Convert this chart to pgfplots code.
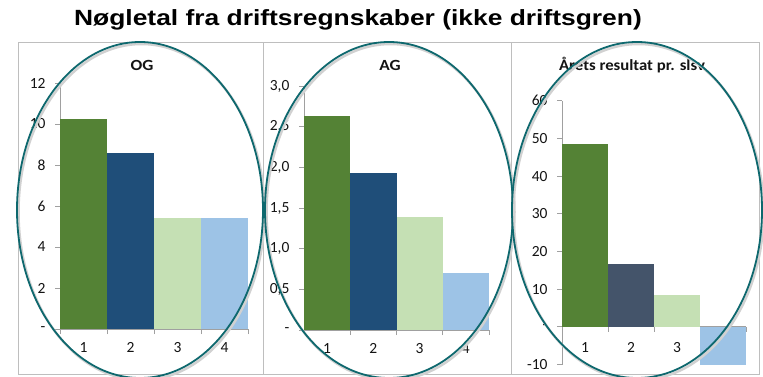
\documentclass[border=0pt]{standalone}
\usepackage{pgfplots}
\pgfplotsset{compat=1.18}
\usepackage{graphicx}
\usepackage{fontspec}
\setmainfont{Carlito}
\newfontfamily\arialfont{Liberation Sans}
\definecolor{cgreen}{RGB}{84,130,53}
\definecolor{cdblue}{RGB}{31,78,121}
\definecolor{cslate}{RGB}{68,84,106}
\definecolor{clgreen}{RGB}{197,224,180}
\definecolor{clblue}{RGB}{157,195,230}
\definecolor{cteal}{RGB}{14,104,110}
\definecolor{caxis}{RGB}{160,160,160}
\definecolor{cframe}{RGB}{190,190,190}
\definecolor{ctext}{RGB}{20,20,20}
\pgfplotsset{
  panel/.style={
    scale only axis, anchor=south west,
    xmin=0.5, xmax=4.5,
    axis y line*=left,
    axis line style={caxis, line width=0.8pt},
    xtick={1,2,3,4},
    minor xtick={0.5,1.5,2.5,3.5,4.5},
    major x tick style={draw=none},
    minor x tick style={caxis, line width=0.8pt},
    y tick style={caxis, line width=0.8pt},
    tick align=outside,
    major tick length=5pt, minor tick length=5pt,
    /pgf/number format/assume math mode=true,
    tick label style={font=\fontsize{15.5}{16}\selectfont, text=ctext},
    yticklabel style={xshift=-6pt},
    xticklabel style={yshift=-5pt},
  },
  bar/.style={ybar, bar width=1, bar shift=0pt, fill=#1, draw=none},
}
\begin{document}
\begin{tikzpicture}[x=1pt,y=1pt]
\useasboundingbox (0,0) rectangle (763,376);
\fill[white] (0,0) rectangle (763,376);
\draw[cframe, line width=0.8pt] (18,2) rectangle (263,334);
\draw[cframe, line width=0.8pt] (263,2) rectangle (511,334);
\draw[cframe, line width=0.8pt] (511,2) rectangle (759,334);

% Panel 1: OG
\begin{axis}[panel, at={(60pt,47pt)}, width=188pt, height=246pt,
  axis x line*=bottom, ymin=0, ymax=12,
  ytick={0,2,4,6,8,10,12}, yticklabels={-\hspace{4pt},2,4,6,8,10,12}]
\addplot[bar=cgreen] coordinates {(1,10.24)};
\addplot[bar=cdblue] coordinates {(2,8.58)};
\addplot[bar=clgreen] coordinates {(3,5.41)};
\addplot[bar=clblue] coordinates {(4,5.41)};
\end{axis}

% Panel 2: AG
\begin{axis}[panel, at={(304pt,46pt)}, width=185pt, height=244pt,
  axis x line*=bottom, ymin=0, ymax=3,
  ytick={0,0.5,1,1.5,2,2.5,3}, yticklabels={-\hspace{4pt},{0,5},{1,0},{1,5},{2,0},{2,5},{3,0}}]
\addplot[bar=cgreen] coordinates {(1,2.63)};
\addplot[bar=cdblue] coordinates {(2,1.93)};
\addplot[bar=clgreen] coordinates {(3,1.39)};
\addplot[bar=clblue] coordinates {(4,0.70)};
\end{axis}

% Panel 3: Årets resultat pr. slsv
\begin{axis}[panel, at={(562pt,11.5pt)}, width=184pt, height=263.8pt,
  axis x line*=middle, ymin=-10, ymax=60,
  xticklabel style={yshift=-2pt},
  ytick={-10,0,10,20,30,40,50,60}, yticklabels={-10,-\hspace{4pt},10,20,30,40,50,60}]
\addplot[bar=cgreen] coordinates {(1,48.5)};
\addplot[bar=cslate] coordinates {(2,16.8)};
\addplot[bar=clgreen] coordinates {(3,8.4)};
\addplot[bar=clblue] coordinates {(4,-10)};
\end{axis}

% panel titles
\node[font=\bfseries\fontsize{15.5}{16}\selectfont, text=ctext] at (142,311) {\scalebox{1.12}[1]{OG}};
\node[font=\bfseries\fontsize{15.5}{16}\selectfont, text=ctext] at (390,311) {\scalebox{1.12}[1]{AG}};
\node[font=\bfseries\fontsize{15.5}{16}\selectfont, text=ctext] at (632,311) {\scalebox{1.08}[1]{Årets resultat pr. slsv}};

% main title
\node[font=\arialfont\bfseries\fontsize{22}{24}\selectfont] at (358,356) {\scalebox{1.2}[1]{Nøgletal fra driftsregnskaber (ikke driftsgren)}};

% ellipses
\foreach \cx/\rx in {140/123, 389/124, 637/125} {
  \draw[black!18, line width=2.5pt] (\cx+1.5,164) ellipse [x radius=\rx, y radius=168];
  \draw[cteal, line width=1.8pt] (\cx,166) ellipse [x radius=\rx, y radius=168];
}
\end{tikzpicture}
\end{document}
